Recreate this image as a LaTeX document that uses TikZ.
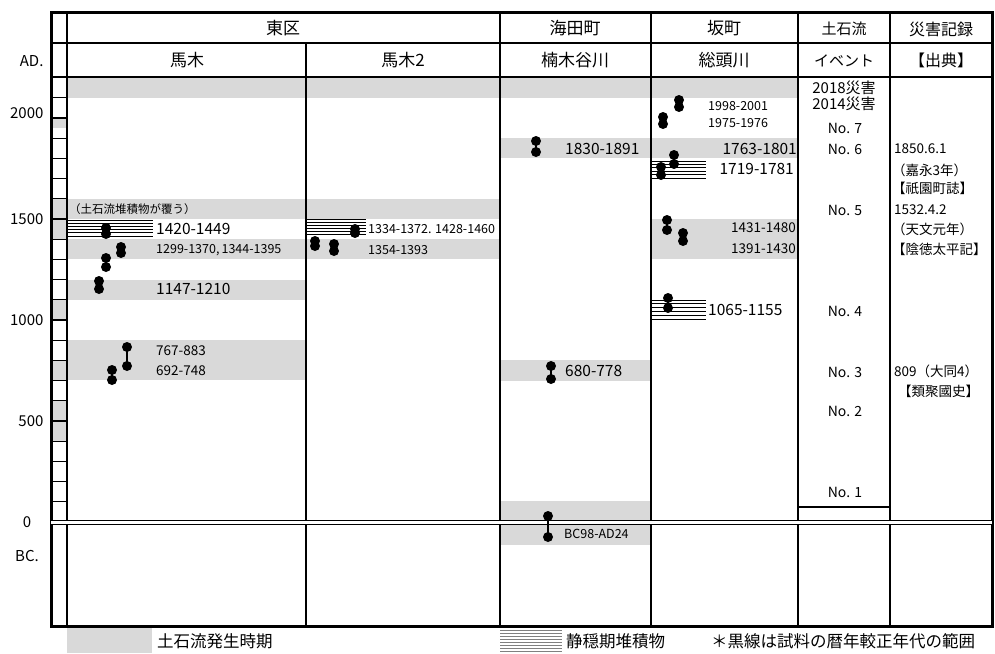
\documentclass[tikz,border=0pt]{standalone}
\usepackage{fontspec}
\setmainfont{Noto Sans CJK JP}
\usepackage{tikz}
\usetikzlibrary{calc}

\definecolor{bandgray}{HTML}{D9D9D9}
\newcommand{\fsz}[1]{\fontsize{#1}{#1}\selectfont}
% dated sample: two dots joined by the calibrated range
\newcommand{\agebar}[3]{%
  \draw[line width=2pt] (#1,#2) -- (#1,#3);
  \fill (#1,#2) circle (5pt);
  \fill (#1,#3) circle (5pt);}
% quiet-period deposit
\newcommand{\hatch}[4]{%
  \foreach \k in {0,...,5}
    \draw[line width=0.8pt] (#1,{#3+\k*(#4-#3)/5}) -- (#2,{#3+\k*(#4-#3)/5});}

\begin{document}
\begin{tikzpicture}[x=1pt,y=-1pt,
  band/.style={fill=bandgray},
  rule/.style={line width=1.2pt},
  head/.style={font=\fsz{17}},
  yearbig/.style={font=\fsz{15.5},anchor=west,inner sep=0pt},
  yearmid/.style={font=\fsz{13.5},anchor=west,inner sep=0pt},
  yearsmall/.style={font=\fsz{11.5},anchor=west,inner sep=0pt},
  event/.style={font=\fsz{14}},
  record/.style={font=\fsz{13.5},anchor=west,inner sep=0pt},
  axislbl/.style={font=\fsz{15}}]

\useasboundingbox (0,0) rectangle (995,653);

% debris flow periods
\fill[band] (67,78) rectangle (798,98);
\fill[band] (67,199) rectangle (500,219);
\fill[band] (67,239) rectangle (500,259);
\fill[band] (651,219) rectangle (798,259);
\fill[band] (67,280) rectangle (306,300);
\fill[band] (67,340) rectangle (306,380);
\fill[band] (500,138) rectangle (798,158);
\fill[band] (500,360) rectangle (651,381);
\fill[band] (500,501) rectangle (651,545);

% time scale column
\fill[band] (51,118) rectangle (67,128);
\fill[band] (51,199) rectangle (67,239);
\fill[band] (51,300) rectangle (67,320);
\fill[band] (51,360) rectangle (67,381);
\fill[band] (51,401) rectangle (67,441);
\foreach \y in {1,...,21}
  \draw[rule] (51,{522-20.2*\y}) -- (67,{522-20.2*\y});

\hatch{67}{153}{220}{236}
\hatch{306}{366}{219}{234}
\hatch{651}{706}{161}{178}
\hatch{651}{706}{300}{319}

% table
\draw[line width=3pt] (51,12) rectangle (992,626);
\draw[rule] (51,43) -- (992,43);
\draw[line width=2.5pt] (51,77) -- (992,77);
\draw[line width=2pt] (67,12) -- (67,626);
\draw[rule] (306,43) -- (306,626);
\foreach \x in {500,651,798,890}
  \draw[rule] (\x,12) -- (\x,626);
\draw[rule] (798,507) -- (890,507);
\draw[double,double distance=3pt,line width=1pt] (51,522) -- (992,522);

% headers
\node[head] (higashi) at (283,28) {東区};
\node[head] (kaita) at (575,28) {海田町};
\node[head] (saka) at (724,28) {坂町};
\node[font=\fsz{15}] (dosekiryu) at (844,29) {土石流};
\node[font=\fsz{16}] (saigai) at (941,29) {災害記録};
\node[head] (umaki) at (187,60) {馬木};
\node[head] (umaki2) at (403,60) {馬木2};
\node[head] (kusuki) at (575,60) {楠木谷川};
\node[head] (soto) at (724,60) {総頭川};
\node[font=\fsz{15}] (ibento) at (844,61) {イベント};
\node[font=\fsz{16}] (shuten) at (941,60) {【出典】};

% time scale
\node[axislbl,anchor=east] (ad) at (47,61) {AD.};
\node[axislbl,anchor=east] (y2000) at (47,113) {2000};
\node[axislbl,anchor=east] (y1500) at (47,219) {1500};
\node[axislbl,anchor=east] (y1000) at (47,320) {1000};
\node[axislbl,anchor=east] (y500) at (47,421) {500};
\node[axislbl] (y0) at (27,522) {0};
\node[axislbl] (bc) at (27,556) {BC.};

% Umaki
\agebar{106}{228}{234}
\agebar{121}{247}{253}
\agebar{106}{258}{267}
\agebar{99}{281}{289}
\agebar{127}{347}{366}
\agebar{112}{370}{380}
\node[yearsmall] (umcover) at (69,209) {（土石流堆積物が覆う）};
\node[yearbig] (um1420) at (156,229) {1420-1449};
\node[font=\fsz{12.5},anchor=west,inner sep=0pt] (um1299) at (156,250) {1299-1370,\,1344-1395};
\node[yearbig] (um1147) at (156,289) {1147-1210};
\node[yearmid] (um767) at (156,351) {767-883};
\node[yearmid] (um692) at (156,371) {692-748};

% Umaki 2
\agebar{355}{229}{233}
\agebar{315}{241}{246}
\agebar{334}{244}{251}
\node[font=\fsz{12.5},anchor=west,inner sep=0pt] (umb1334) at (368,229) {1334-1372. 1428-1460};
\node[font=\fsz{12.5},anchor=west,inner sep=0pt] (umb1354) at (368,250) {1354-1393};

% Kusukidani
\agebar{536}{141}{152}
\agebar{551}{366}{379}
\agebar{548}{516}{537}
\node[yearbig] (ku1830) at (565,149) {1830-1891};
\node[yearbig] (ku680) at (565,371) {680-778};
\node[font=\fsz{12.5},anchor=west,inner sep=0pt] (kubc) at (564,534) {BC98-AD24};

% Soto
\agebar{679}{100}{107}
\agebar{663}{117}{124}
\agebar{674}{155}{164}
\agebar{661}{167}{175}
\agebar{667}{220}{230}
\agebar{683}{233}{241}
\agebar{668}{298}{308}
\node[font=\fsz{12.5},anchor=west,inner sep=0pt] (so1998) at (708,106) {1998-2001};
\node[font=\fsz{12.5},anchor=west,inner sep=0pt] (so1975) at (708,123) {1975-1976};
\node[yearbig,anchor=east] (so1763) at (797,149) {1763-1801};
\node[yearbig,anchor=east] (so1719) at (794,169) {1719-1781};
\node[yearmid,anchor=east] (so1431) at (796,228) {1431-1480};
\node[yearmid,anchor=east] (so1391) at (796,249) {1391-1430};
\node[yearbig] (so1065) at (708,310) {1065-1155};

% events
\node[font=\fsz{15}] (d2018) at (844,88) {2018災害};
\node[font=\fsz{15}] (d2014) at (844,104) {2014災害};
\node[event] (no7) at (845,128) {No. 7};
\node[event] (no6) at (845,149) {No. 6};
\node[event] (no5) at (845,210) {No. 5};
\node[event] (no4) at (845,311) {No. 4};
\node[event] (no3) at (845,372) {No. 3};
\node[event] (no2) at (845,411) {No. 2};
\node[event] (no1) at (845,492) {No. 1};

% records
\node[record] (r1850) at (894,149) {1850.6.1};
\node[record] (rkaei) at (892,170) {（嘉永3年）};
\node[record] (rgion) at (892,188) {【祇園町誌】};
\node[record] (r1532) at (894,210) {1532.4.2};
\node[record] (rtenbun) at (892,229) {（天文元年）};
\node[record] (rintoku) at (892,249) {【陰徳太平記】};
\node[record] (r809) at (894,371) {809（大同4）};
\node[record] (rruiju) at (898,391) {【類聚國史】};

% legend
\fill[band] (67,628) rectangle (152,653);
\node[font=\fsz{16.5},anchor=west,inner sep=0pt] (legband) at (157,641) {土石流発生時期};
\foreach \k in {0,...,7}
  \draw[gray,line width=0.8pt] (500,{630+3*\k}) -- (562,{630+3*\k});
\node[font=\fsz{16.5},anchor=west,inner sep=0pt] (leghatch) at (566,641) {静穏期堆積物};
\node[font=\fsz{16.5},anchor=west,inner sep=0pt] (legnote) at (711,641) {＊黒線は試料の暦年較正年代の範囲};
\end{tikzpicture}
\end{document}
